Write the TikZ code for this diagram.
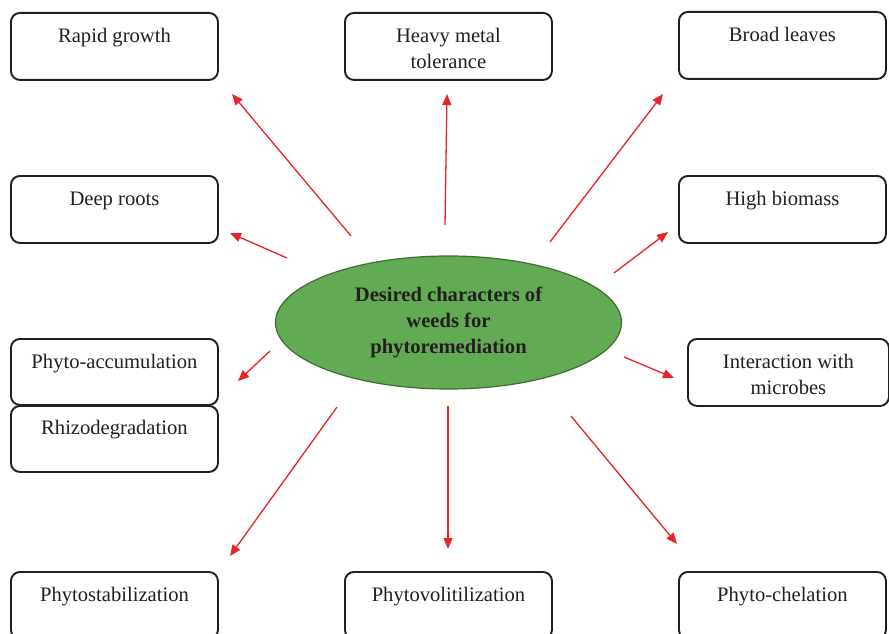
\documentclass[tikz,border=0pt]{standalone}
\usepackage{fontspec}
\setmainfont{Liberation Serif}
\usetikzlibrary{shapes.geometric,arrows.meta}

\definecolor{ink}{RGB}{35,31,32}
\definecolor{arrowred}{RGB}{232,36,39}
\definecolor{leafgreen}{RGB}{99,170,84}
\definecolor{leafedge}{RGB}{62,110,52}

\tikzset{
  itembox/.style={draw=ink, line width=1.9pt, rounded corners=9pt, fill=white,
    anchor=north west, minimum width=207pt, inner sep=0pt,
    text height=30pt, text depth=37pt, align=center, text=ink,
    font=\fontsize{20.6}{25.8}\selectfont},
  % two-line boxes: the node baseline sits on the last line
  twoline/.style={text height=55.8pt, text depth=11.2pt},
  hub/.style={ellipse, draw=leafedge, line width=1.2pt, fill=leafgreen,
    minimum width=346pt, minimum height=133pt, inner sep=0pt, align=center,
    text=ink, font=\fontsize{20.6}{26}\selectfont\bfseries},
  pointer/.style={draw=arrowred, line width=1.3pt,
    -{Triangle[length=11pt,width=9pt]}}
}

\begin{document}
\begin{tikzpicture}[x=1pt,y=-1pt]
  \fill[white] (0,0) rectangle (889,634);
  \useasboundingbox (0,0) rectangle (889,634);

  % central ellipse
  \node[hub] (hub) at (448.5,322.5) {Desired characters of\\weeds for\\phytoremediation};

  % left column
  \node[itembox] (rapid)  at (10,12)  {Rapid growth};
  \node[itembox] (deep)   at (10,175) {Deep roots};
  \node[itembox, text depth=36pt] (accum) at (10,338) {Phyto-accumulation};
  \node[itembox, text height=29pt, text depth=37pt] (rhizo) at (10,405) {Rhizodegradation};
  \node[itembox] (stab)   at (10,571) {Phytostabilization};

  % middle column
  \node[itembox, twoline] (metal)  at (344,12)  {Heavy metal\\tolerance};
  \node[itembox] (volat)  at (344,571) {Phytovolitilization};

  % right column
  \node[itembox] (broad)  at (678,11)  {Broad leaves};
  \node[itembox] (biomass) at (678,175) {High biomass};
  \node[itembox, twoline, minimum width=201pt] (micro) at (687,338) {Interaction with\\microbes};
  \node[itembox] (chel)   at (678,571) {Phyto-chelation};

  % arrow ends
  \coordinate (t1) at (351,236);  \coordinate (h1) at (232,94);
  \coordinate (t2) at (445,225);  \coordinate (h2) at (447,94);
  \coordinate (t3) at (550,242);  \coordinate (h3) at (663,94);
  \coordinate (t4) at (287,258);  \coordinate (h4) at (230,233);
  \coordinate (t5) at (614,273);  \coordinate (h5) at (668,232);
  \coordinate (t6) at (270,351);  \coordinate (h6) at (238,381);
  \coordinate (t7) at (624,357);  \coordinate (h7) at (674,378);
  \coordinate (t8) at (337,407);  \coordinate (h8) at (230,556);
  \coordinate (t9) at (448,406);  \coordinate (h9) at (448,549);
  \coordinate (t10) at (571,416); \coordinate (h10) at (677,544);

  \foreach \i in {1,...,10} {
    \draw[pointer] (t\i) -- (h\i);
  }
\end{tikzpicture}
\end{document}
